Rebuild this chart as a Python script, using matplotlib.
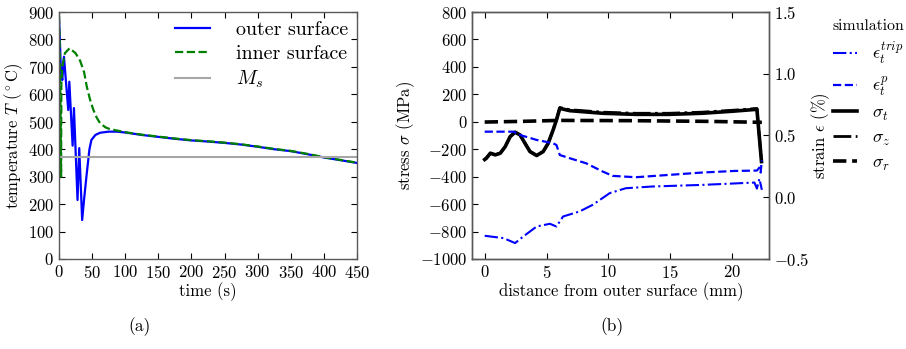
import matplotlib
matplotlib.use("Agg")
import matplotlib.pyplot as plt

plt.rcParams.update({
    "font.family": "serif",
    "font.serif": ["cmr10", "DejaVu Serif"],
    "mathtext.fontset": "cm",
    "axes.formatter.use_mathtext": True,
    "axes.unicode_minus": True,
    "font.size": 12,
    "legend.fontsize": 14.4,
    "xtick.direction": "in",
    "ytick.direction": "in",
    "xtick.top": True,
    "ytick.right": True,
    "xtick.major.size": 4,
    "ytick.major.size": 4,
    "axes.linewidth": 1.0,
    "axes.edgecolor": "0.35",
})

# ── (a) temperature history ───────────────────────────────────
t_outer = [0, 1, 3, 5, 7.5, 14, 15.6, 20.6, 22.6, 28, 30.6, 35, 38, 42, 46, 49,
           55, 62, 75, 87, 100, 125, 150, 175, 200, 225, 250, 275, 300, 325,
           350, 375, 400, 425, 450]
T_outer = [880, 820, 680, 652, 737, 543, 646, 413, 550, 215, 404, 142, 220, 313,
           400, 434, 452, 460, 464, 464, 461, 452, 445, 438, 432, 428, 423, 417,
           409, 400, 393, 382, 370, 360, 350]
t_inner = [0, 1, 2.5, 3.2, 3.6, 5, 9, 16, 25, 32, 38, 42, 47, 52, 57, 62, 70,
           77, 90, 100, 125, 150, 175, 200, 225, 250, 275, 300, 325, 350, 375,
           400, 425, 450]
T_inner = [885, 800, 500, 300, 640, 700, 750, 768, 750, 722, 680, 628, 580, 543,
           515, 495, 480, 473, 467, 462, 453, 446, 439, 433, 429, 424, 418, 410,
           401, 394, 383, 371, 361, 351]
T_ms = 370

# ── (b) residual stress / strain through wall ─────────────────
x_st = [0.0, 0.14, 0.46, 0.86, 1.26, 1.66, 2.06, 2.46, 2.86, 3.26, 3.66, 4.2,
        4.73, 5.13, 5.53, 5.8, 6.07, 6.87, 9.54, 12.2, 14.9, 17.56, 20.2, 22.0,
        22.37]
sig_t = [-275, -265, -229, -241, -229, -181, -108, -76, -96, -157, -217, -246,
         -217, -157, -60, 13, 98, 81, 62, 54, 54, 62, 78, 91, -290]
sig_z = [-275, -265, -229, -241, -229, -181, -108, -76, -96, -157, -217, -246,
         -217, -157, -60, 13, 104, 88, 70, 62, 62, 70, 85, 97, -290]
x_r = [0.0, 3.0, 6.0, 12.0, 18.0, 22.4]
sig_r = [-2, 3, 10, 8, 3, -4]

x_p = [0.0, 2.33, 2.86, 4.2, 5.53, 5.8, 6.07, 6.87, 8.2, 9.54, 10.35, 12.2,
       14.9, 17.56, 20.2, 22.0, 22.2, 22.3, 22.4]
eps_p = [0.531, 0.531, 0.504, 0.464, 0.437, 0.423, 0.342, 0.316, 0.275, 0.208,
         0.173, 0.162, 0.181, 0.2, 0.213, 0.216, 0.24, 0.2, 0.3]
x_trip = [0.0, 1.52, 2.46, 3.13, 4.2, 5.27, 5.8, 6.33, 7.67, 8.74, 10.1, 11.4,
          13.55, 17.56, 21.8, 22.0, 22.2, 22.4]
eps_trip = [-0.312, -0.331, -0.371, -0.317, -0.237, -0.215, -0.237, -0.156,
            -0.115, -0.061, 0.033, 0.073, 0.087, 0.1, 0.119, 0.07, 0.15, 0.06]

fig = plt.figure(figsize=(9.06, 3.49), dpi=100)
fig.patch.set_facecolor("white")

ax1 = fig.add_axes([0.0651, 0.2579, 0.3289, 0.7077])
ax1.plot(t_outer, T_outer, color="blue", lw=1.6, label="outer surface")
ax1.plot(t_inner, T_inner, color="green", lw=1.6, ls="--", label="inner surface")
ax1.axhline(T_ms, color="0.65", lw=1.5, label="$M_s$")
ax1.set_xlim(0, 450)
ax1.set_ylim(0, 900)
ax1.set_xticks(range(0, 451, 50))
ax1.set_yticks(range(0, 901, 100))
ax1.set_xlabel("time (s)", labelpad=1)
ax1.set_ylabel(r"temperature $T$ ($^\circ$C)", labelpad=2)
ax1.legend(loc="upper right", frameon=False, handlelength=1.75,
           handletextpad=1.3, borderaxespad=0.15, labelspacing=0.3,
           borderpad=0.3)

ax2 = fig.add_axes([0.5213, 0.2579, 0.3278, 0.7077])
ax3 = ax2.twinx()
l_sz, = ax2.plot(x_st, sig_z, color="black", lw=2, ls="-.", label=r"$\sigma_z$")
l_st, = ax2.plot(x_st, sig_t, color="black", lw=2.6, label=r"$\sigma_t$")
l_sr, = ax2.plot(x_r, sig_r, color="black", lw=2.6, ls="--", label=r"$\sigma_r$")
l_tr, = ax3.plot(x_trip, eps_trip, color="blue", lw=1.5, ls="-.",
                 label=r"$\epsilon_t^{trip}$")
l_p, = ax3.plot(x_p, eps_p, color="blue", lw=1.6, ls="--",
                label=r"$\epsilon_t^{p}$")
ax2.set_xlim(-1, 23)
ax2.set_ylim(-1000, 800)
ax2.set_xticks([0, 5, 10, 15, 20])
ax2.set_yticks(range(-1000, 801, 200))
ax3.set_ylim(-0.5, 1.5)
ax3.set_yticks([-0.5, 0.0, 0.5, 1.0, 1.5])
ax2.tick_params(right=False)
ax2.set_xlabel("distance from outer surface (mm)", labelpad=1)
ax2.set_ylabel(r"stress $\sigma$ (MPa)", labelpad=2)
ax3.set_ylabel(r"strain $\epsilon$ (%)", labelpad=0)

handles = [l_tr, l_p, l_st, l_sz, l_sr]
leg = ax3.legend(handles, [h.get_label() for h in handles],
                 title="simulation", loc="upper left",
                 bbox_to_anchor=(831 / 906, 1 - 17 / 349),
                 bbox_transform=fig.transFigure, fontsize=13,
                 frameon=False, handlelength=1.35, handletextpad=0.8,
                 labelspacing=0.4, borderaxespad=0.0, borderpad=0.1)
leg.get_title().set_fontsize(11.3)
leg._legend_box.align = "left"

fig.text(140 / 906, 1 - 327 / 349, "(a)", ha="center", va="center", fontsize=12.5)
fig.text(612 / 906, 1 - 327 / 349, "(b)", ha="center", va="center", fontsize=12.5)

fig.savefig("out.png", dpi=100, facecolor="white")
